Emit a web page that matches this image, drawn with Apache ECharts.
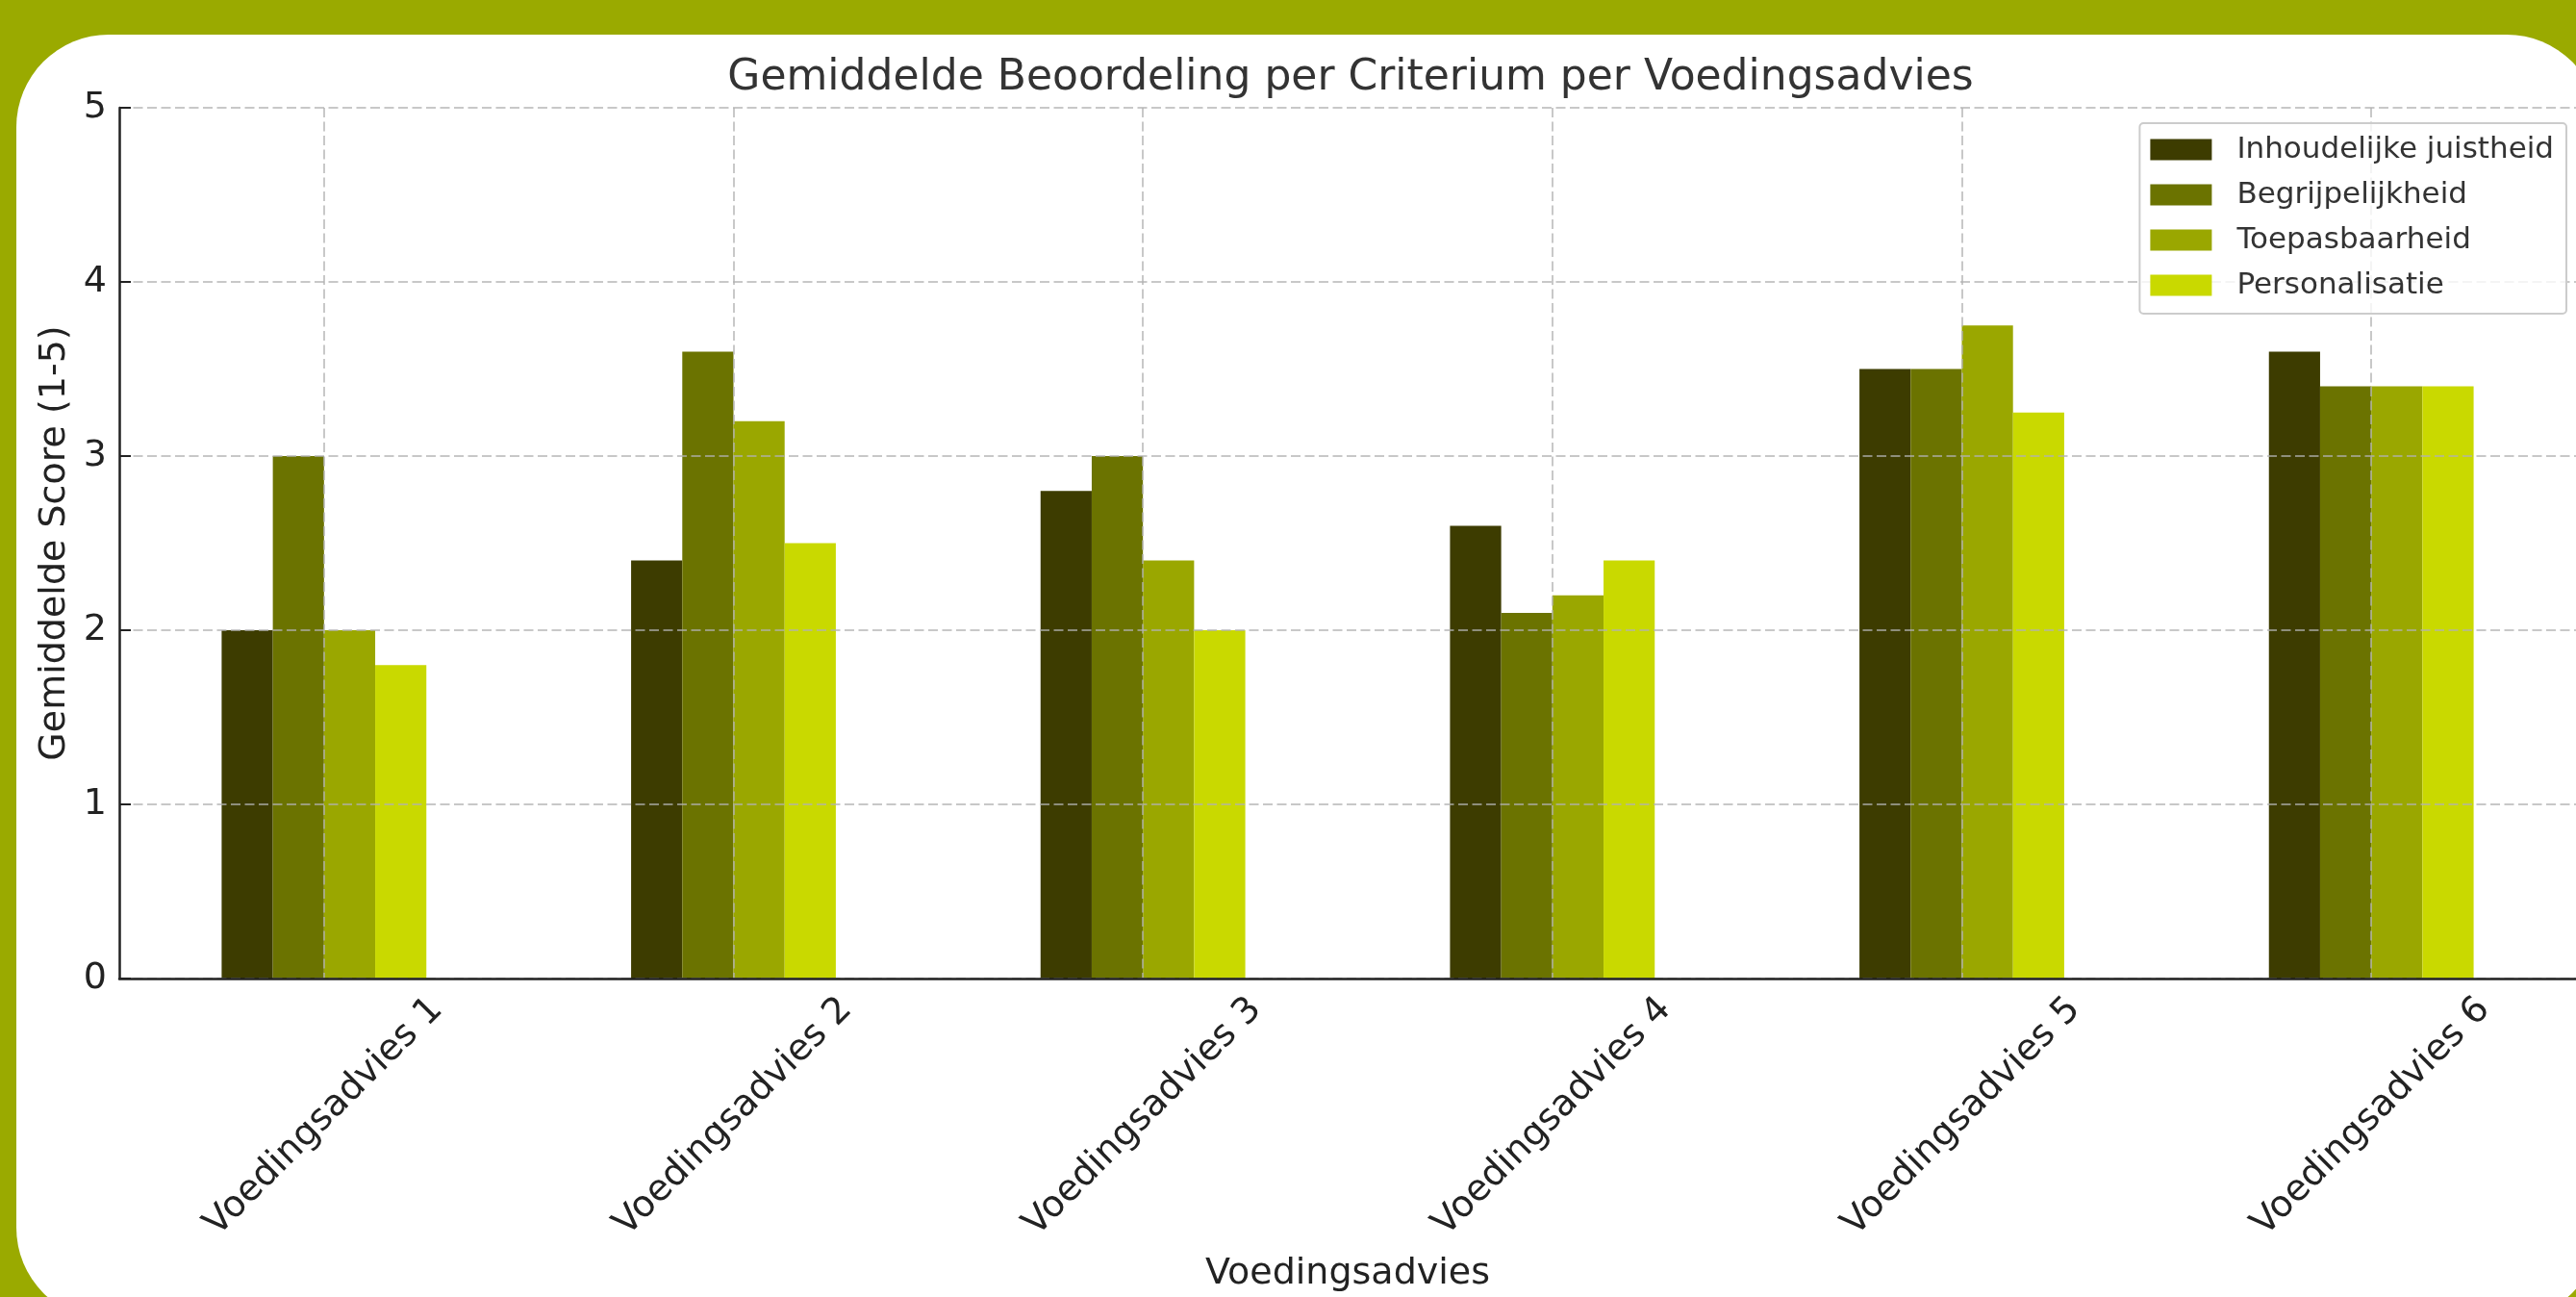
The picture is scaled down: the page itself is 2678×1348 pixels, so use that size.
<!DOCTYPE html>
<html>
<head>
<meta charset="utf-8">
<title>Gemiddelde Beoordeling per Criterium per Voedingsadvies</title>
<script src="https://cdn.jsdelivr.net/npm/echarts@6.0.0/dist/echarts.min.js"></script>
<style>
    html, body { margin: 0; padding: 0; overflow: hidden; }
    #chart { width: 2678px; height: 1348px; }
</style>
</head>
<body>
<div id="chart"></div>
<script>
'use strict';

var categories = ['Voedingsadvies 1', 'Voedingsadvies 2', 'Voedingsadvies 3', 'Voedingsadvies 4', 'Voedingsadvies 5', 'Voedingsadvies 6'];
var criteria = ['Inhoudelijke juistheid', 'Begrijpelijkheid', 'Toepasbaarheid', 'Personalisatie'];

var juistheid = [2.0, 2.4, 2.8, 2.6, 3.5, 3.6];
var begrijpelijkheid = [3.0, 3.6, 3.0, 2.1, 3.5, 3.4];
var toepasbaarheid = [2.0, 3.2, 2.4, 2.2, 3.75, 3.4];
var personalisatie = [1.8, 2.5, 2.0, 2.4, 3.25, 3.4];

var colors = ['#3d3c00', '#6b7300', '#9aa700', '#c9d900'];
var FONT = 'DejaVu Sans';

var gridDash = {
    color: 'rgba(176, 176, 176, 0.7)',
    width: 2,
    type: [10, 4.5]
};

var myChart = echarts.init(document.getElementById('chart'));

var series = [juistheid, begrijpelijkheid, toepasbaarheid, personalisatie].map(function(values, i) {
    return {
        name: criteria[i],
        type: 'bar',
        data: values,
        barWidth: '12.5%',
        barGap: '0%',
        itemStyle: { color: colors[i] }
    };
});

var option = {
    backgroundColor: '#9aaa00',
    animation: false,
    textStyle: { fontFamily: FONT },
    graphic: {
        elements: [{
            // white card behind the plot
            type: 'rect',
            z: -10,
            silent: true,
            shape: { x: 17, y: 36, width: 2685, height: 1336, r: 96 },
            style: { fill: '#ffffff' }
        }]
    },
    title: {
        text: 'Gemiddelde Beoordeling per Criterium per Voedingsadvies',
        left: 1404,
        top: 60,
        padding: 0,
        textAlign: 'center',
        textStyle: { fontFamily: FONT, fontSize: 44, fontWeight: 'normal', color: '#333333' }
    },
    legend: {
        data: criteria,
        orient: 'vertical',
        right: 10,
        top: 128,
        icon: 'rect',
        itemWidth: 64,
        itemHeight: 22,
        itemGap: 16,
        padding: [12, 13, 14, 11],
        backgroundColor: 'rgba(255, 255, 255, 0.8)',
        borderColor: '#cccccc',
        borderWidth: 2,
        borderRadius: 4,
        textStyle: { fontFamily: FONT, fontSize: 31, lineHeight: 31, color: '#333333', padding: [0, 0, 0, 21] }
    },
    grid: {
        left: 124,
        top: 112,
        width: 2558,
        height: 916
    },
    xAxis: {
        type: 'category',
        data: categories,
        z: 3,
        name: 'Voedingsadvies',
        nameLocation: 'middle',
        nameGap: 288,
        nameTextStyle: { fontFamily: FONT, fontSize: 38, color: '#222222' },
        axisLine: { lineStyle: { color: '#222222', width: 2.5 } },
        axisTick: { alignWithLabel: true, inside: true, length: 12, lineStyle: { color: '#222222', width: 2 } },
        axisLabel: {
            interval: 0,
            rotate: 45,
            align: 'center',
            verticalAlign: 'middle',
            margin: 144,
            fontFamily: FONT,
            fontSize: 38,
            color: '#222222'
        },
        splitLine: { show: true, alignWithLabel: true, lineStyle: gridDash }
    },
    yAxis: {
        type: 'value',
        min: 0,
        max: 5,
        interval: 1,
        z: 3,
        name: 'Gemiddelde Score (1-5)',
        nameLocation: 'middle',
        nameGap: 46,
        nameTextStyle: { fontFamily: FONT, fontSize: 38, color: '#222222' },
        axisLine: { show: true, lineStyle: { color: '#222222', width: 2.5 } },
        axisTick: { show: true, inside: true, length: 12, lineStyle: { color: '#222222', width: 2 } },
        axisLabel: { margin: 13, fontFamily: FONT, fontSize: 38, color: '#222222' },
        splitLine: { show: true, lineStyle: gridDash }
    },
    series: series
};

myChart.setOption(option);
</script>
</body>
</html>
